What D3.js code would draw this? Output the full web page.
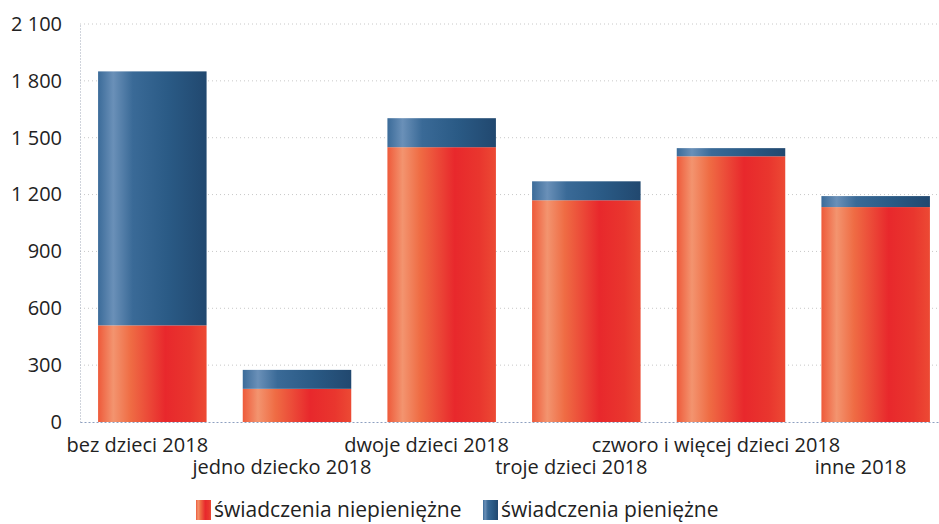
<!DOCTYPE html>
<html>
<head>
<meta charset="utf-8">
<script src="https://cdn.jsdelivr.net/npm/d3@7"></script>
<style>
  body { margin: 0; background: #fff; }
  svg text { font-family: "Open Sans", "Noto Sans", sans-serif; fill: #222; }
</style>
</head>
<body>
<svg id="chart" width="939" height="524"></svg>
<script>
const categories = ['bez dzieci 2018', 'jedno dziecko 2018', 'dwoje dzieci 2018',
  'troje dzieci 2018', 'czworo i więcej dzieci 2018', 'inne 2018'];
const niepieniezne = [510, 175, 1450, 1170, 1402, 1134];
const pieniezne = [1340, 100, 153, 100, 43, 58];
const yTicks = [0, 300, 600, 900, 1200, 1500, 1800, 2100];
const seriesNames = ['świadczenia niepieniężne', 'świadczenia pieniężne'];

const svg = d3.select('#chart');
const margin = { top: 24, right: 0, bottom: 102, left: 80 };
const width = 948 - margin.left;
const height = 524 - margin.top - margin.bottom;

// gradients imitating the cylindrical shading
const defs = svg.append('defs');
function grad(id, stops) {
  const g = defs.append('linearGradient').attr('id', id)
    .attr('x1', '0%').attr('x2', '100%').attr('y1', '0%').attr('y2', '0%');
  stops.forEach(([o, c]) => g.append('stop').attr('offset', o).attr('stop-color', c));
}
grad('gOrange', [['0%', '#ee5a3a'], ['14%', '#f3946f'], ['30%', '#ef6c44'],
  ['62%', '#e8282c'], ['85%', '#e9362e'], ['100%', '#ec4a34']]);
grad('gBlue', [['0%', '#3b6b99'], ['14%', '#6a90b8'], ['32%', '#3a6a97'],
  ['65%', '#2a5a85'], ['100%', '#21486f']]);

const x = d3.scaleBand().domain(categories).range([0, width]).paddingInner(0.25).paddingOuter(0.125);
const y = d3.scaleLinear().domain([0, 2100]).range([height, 0]);

const g = svg.append('g').attr('transform', `translate(${margin.left},${margin.top})`);

// gridlines
g.append('g')
  .selectAll('line')
  .data(yTicks.slice(1))
  .enter()
  .append('line')
  .attr('x1', 0).attr('x2', width)
  .attr('y1', (d) => y(d)).attr('y2', (d) => y(d))
  .attr('stroke', '#c8c8c8').attr('stroke-width', 1).attr('stroke-dasharray', '1,3');

// y axis
const yAxis = d3.axisLeft(y).tickValues(yTicks).tickSize(0).tickPadding(18)
  .tickFormat((d) => d3.format(',')(d).replace(',', ' '));
g.append('g').call(yAxis)
  .call((a) => a.select('.domain').attr('stroke', '#a0a8b8').attr('stroke-dasharray', '1,2'))
  .selectAll('text').style('font-size', '20px');

// stacked bars
const stack = categories.map((c, i) => ({ c, a: niepieniezne[i], b: pieniezne[i] }));
g.selectAll('.bar-a').data(stack).enter().append('rect')
  .attr('x', (d) => x(d.c)).attr('width', x.bandwidth())
  .attr('y', (d) => y(d.a)).attr('height', (d) => height - y(d.a))
  .attr('fill', 'url(#gOrange)');
g.selectAll('.bar-b').data(stack).enter().append('rect')
  .attr('x', (d) => x(d.c)).attr('width', x.bandwidth())
  .attr('y', (d) => y(d.a + d.b)).attr('height', (d) => y(d.a) - y(d.a + d.b))
  .attr('fill', 'url(#gBlue)');

// x axis
const xAxis = d3.axisBottom(x).tickSize(0).tickPadding(0);
const xg = g.append('g').attr('transform', `translate(0,${height})`).call(xAxis);
xg.select('.domain').attr('stroke', '#8ea0c0').attr('stroke-dasharray', '2,2');
xg.selectAll('text')
  .style('font-size', '20px')
  .attr('dy', null)
  .attr('x', -15)
  .attr('y', (d, i) => (i % 2 === 0 ? 30 : 52));

// legend
const legendX = [196, 483];
const legend = svg.append('g').attr('transform', 'translate(0,500)');
seriesNames.forEach((name, i) => {
  legend.append('rect').attr('x', legendX[i]).attr('y', 0).attr('width', 15).attr('height', 20)
    .attr('fill', i === 0 ? 'url(#gOrange)' : 'url(#gBlue)');
  legend.append('text').attr('x', legendX[i] + 18).attr('y', 17)
    .style('font-size', '21px').text(name);
});
</script>
</body>
</html>
